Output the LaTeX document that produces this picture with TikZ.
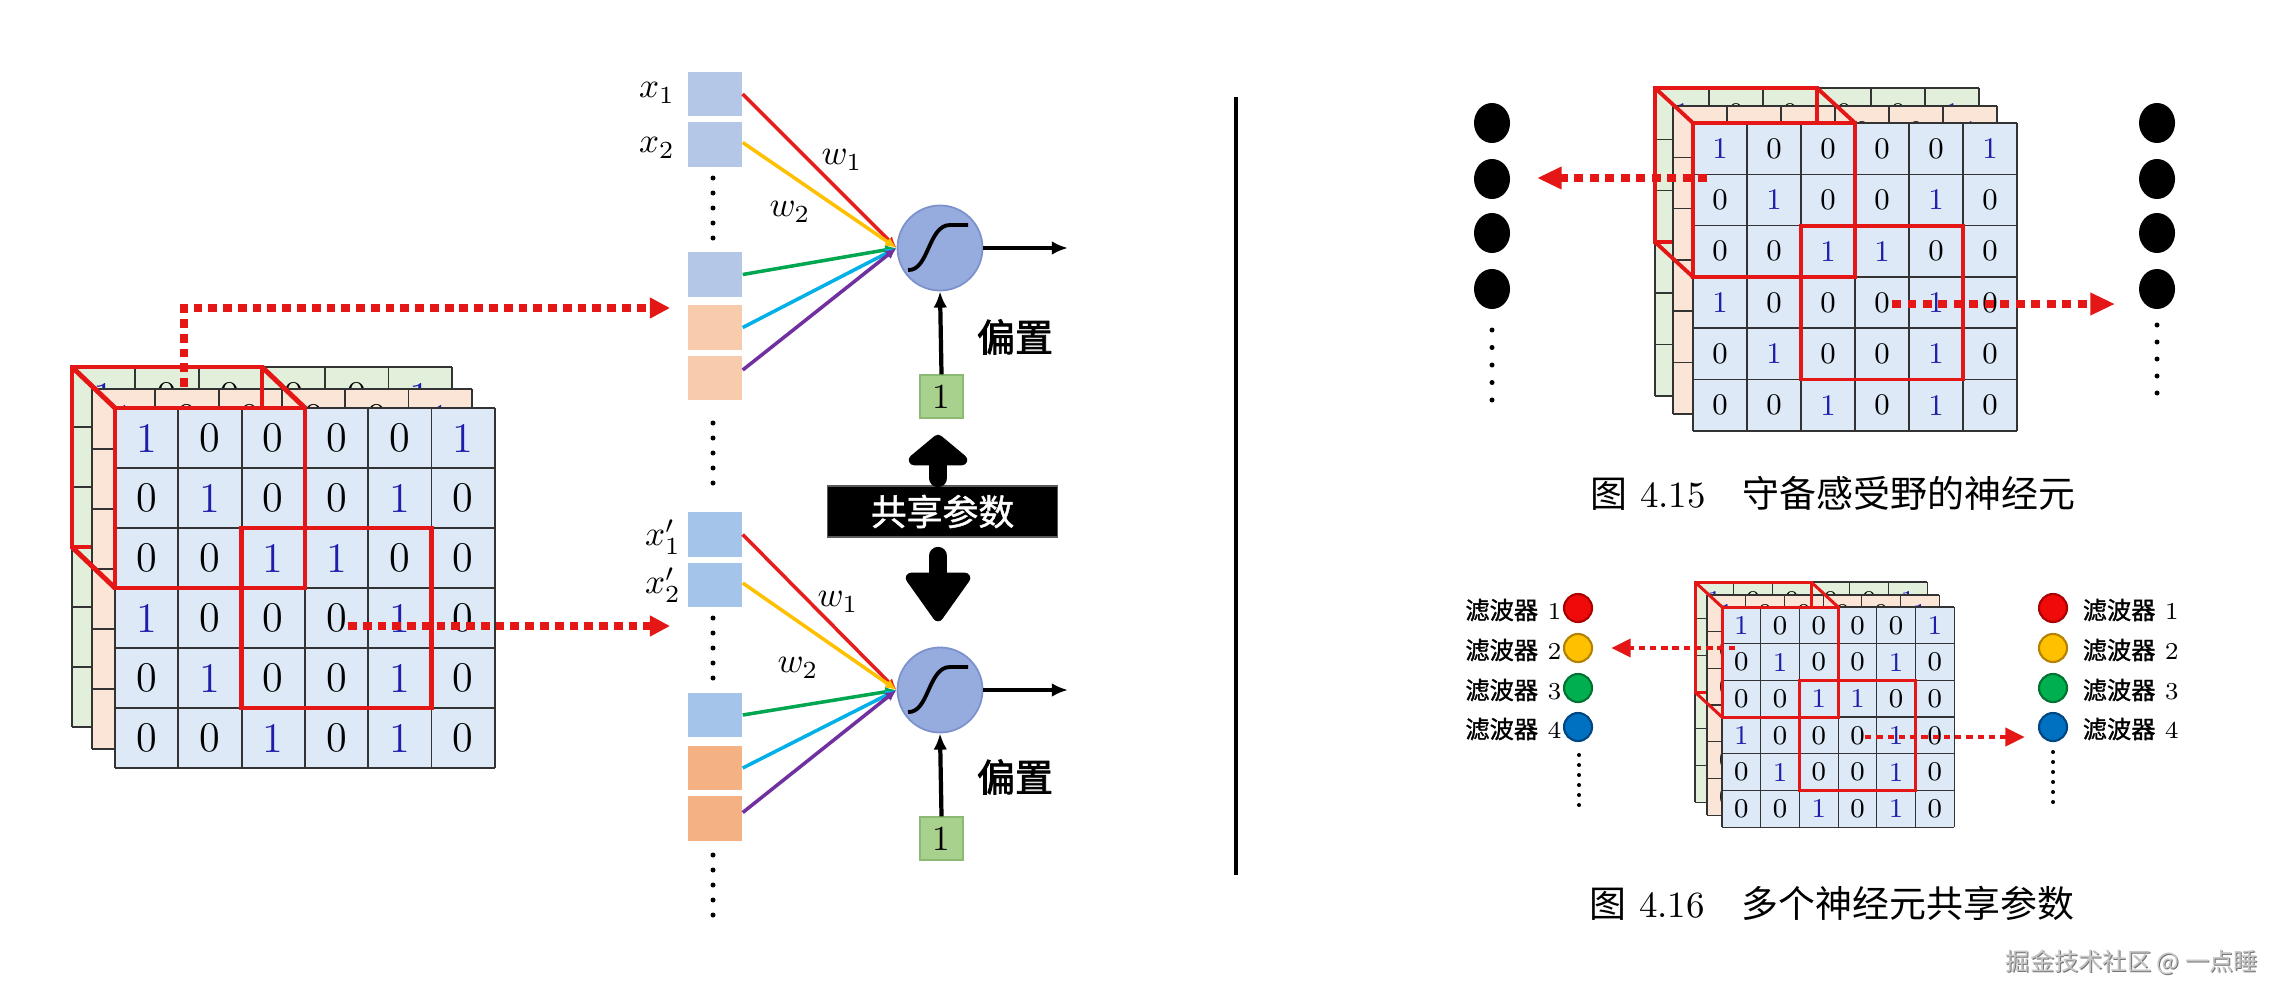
\documentclass[tikz,border=0pt]{standalone}
\usepackage{fontspec}
\newfontfamily\cjk{Noto Sans CJK SC}
\newfontfamily\cjkfb{Noto Sans CJK SC}[FakeBold=2.2]
\newfontfamily\cjkfs{Noto Sans CJK SC}[FakeBold=1.2]
\usetikzlibrary{arrows.meta,shapes.geometric}
\definecolor{lgreen}{RGB}{226,239,218}
\definecolor{lpeach}{RGB}{251,229,214}
\definecolor{lblue}{RGB}{221,233,247}
\definecolor{digblue}{RGB}{30,30,170}
\definecolor{rbox}{RGB}{228,22,22}
\definecolor{inblue}{RGB}{180,199,231}
\definecolor{inblueB}{RGB}{164,196,234}
\definecolor{inpeach}{RGB}{248,203,173}
\definecolor{inorange}{RGB}{244,177,131}
\definecolor{biasgreen}{RGB}{169,209,142}
\definecolor{biasedge}{RGB}{140,185,115}
\definecolor{neuron}{RGB}{150,171,222}
\definecolor{neuronedge}{RGB}{125,145,205}
\definecolor{wred}{RGB}{230,30,30}
\definecolor{wyellow}{RGB}{255,192,0}
\definecolor{wgreen}{RGB}{0,166,80}
\definecolor{wcyan}{RGB}{0,176,230}
\definecolor{wpurple}{RGB}{112,48,160}
\definecolor{fred}{RGB}{240,10,10}
\definecolor{fredD}{RGB}{170,0,0}
\definecolor{fyel}{RGB}{255,192,0}
\definecolor{fyelD}{RGB}{180,130,0}
\definecolor{fgrn}{RGB}{0,176,80}
\definecolor{fgrnD}{RGB}{0,115,50}
\definecolor{fblu}{RGB}{0,112,192}
\definecolor{fbluD}{RGB}{0,70,130}

% #1 name, #2 x0, #3 y0, #4 cell w, #5 cell h, #6 fill, #7 font, #8 line width
\newcommand\gridlayer[8]{%
  \fill[#6] (#2,#3) rectangle ({#2+6*#4},{#3+6*#5});
  \foreach \r/\rowvals in {0/{1,0,0,0,0,1},1/{0,1,0,0,1,0},2/{0,0,1,1,0,0},3/{1,0,0,0,1,0},4/{0,1,0,0,1,0},5/{0,0,1,0,1,0}}{%
    \foreach \v [count=\c from 0] in \rowvals {%
      \node[font=#7, inner sep=0pt] (#1-\r-\c) at ({#2+(\c+0.5)*#4},{#3+(\r+0.5)*#5}) {\ifnum\v=1 \color{digblue}\fi\v};
    }%
  }%
  \foreach \i in {0,...,6}{%
    \draw[gridline, line width=#8] ({#2+\i*#4},#3) -- ({#2+\i*#4},{#3+6*#5});
    \draw[gridline, line width=#8] (#2,{#3+\i*#5}) -- ({#2+6*#4},{#3+\i*#5});
  }%
}

\tikzset{
  gridline/.style={draw=black!80},
  redA/.style={draw=rbox, line width=1.4pt, line join=miter},
  redB/.style={draw=rbox, line width=1.1pt, line join=miter},
  redC/.style={draw=rbox, line width=0.85pt, line join=miter},
  dotA/.style={draw=rbox, line width=2pt, dash pattern=on 2.5pt off 1.7pt, -{Triangle[length=5.7pt,width=5.6pt]}},
  dotB/.style={draw=rbox, line width=2pt, dash pattern=on 2.5pt off 1.9pt, -{Triangle[length=7pt,width=6pt]}},
  dotC/.style={draw=rbox, line width=1.4pt, dash pattern=on 1.8pt off 1.4pt, -{Triangle[length=5.6pt,width=5pt]}},
  inbox/.style={rectangle, minimum width=0.54cm, minimum height=0.445cm, inner sep=0pt},
  wire/.style={line width=1pt, -{Latex[length=3.2pt,width=2.8pt]}},
  blackarrow/.style={line width=1.2pt, -{Latex[length=4.6pt,width=3.9pt]}},
  neuronc/.style={circle, minimum size=0.85cm, inner sep=0pt, fill=neuron, draw=neuronedge, line width=0.5pt},
  biasbox/.style={rectangle, minimum size=0.43cm, inner sep=0pt, fill=biasgreen, draw=biasedge, line width=0.4pt, font=\fontsize{10}{12}\selectfont},
  mathlab/.style={font=\fontsize{10}{12}\selectfont, inner sep=0pt},
  pianzhi/.style={font=\cjkfb\fontsize{10.8}{13}\selectfont, inner sep=0pt},
  vdot/.style={circle, fill=black, inner sep=0pt, minimum size=0.05cm},
  bigdot/.style={ellipse, fill=black, inner sep=0pt, minimum width=0.36cm, minimum height=0.40cm},
  fcirc/.style={circle, inner sep=0pt, minimum size=0.28cm, line width=0.6pt},
  flab/.style={font=\fontsize{6.9}{8}\selectfont, inner sep=0pt},
  caption/.style={font=\fontsize{10.5}{13}\selectfont, inner sep=0pt},
  sharebox/.style={rectangle, fill=black, draw=black!65, line width=0.3pt, minimum width=2.29cm, minimum height=0.51cm, inner sep=0pt, text=white, font=\cjkfs\fontsize{10.2}{12}\selectfont},
  bigshaft/.style={line width=5.2pt, line cap=round},
  bighead/.style={fill=black, draw=black, line width=3pt, line join=round}
}

\begin{document}
\begin{tikzpicture}[x=0.01cm, y=-0.01cm]
\useasboundingbox (0,0) rectangle (2289,1000);
\fill[white] (0,0) rectangle (2289,1000);

% ================= LEFT GRID =================
\gridlayer{LG}{72}{367}{63.3}{60}{lgreen}{\fontsize{12}{14}\selectfont}{0.55pt}
\draw[redA] (72,367) rectangle (262,547);
\gridlayer{LP}{92}{389}{63.3}{60}{lpeach}{\fontsize{12}{14}\selectfont}{0.55pt}
\draw[redA] (262,367) -- (262,408);
\draw[redA] (72,367) -- (115,408);
\draw[redA] (262,367) -- (305,408);
\draw[redA] (72,547) -- (115,588);
\draw[redA] (72,367) -- (262,367);
\gridlayer{LF}{115}{408}{63.3}{60}{lblue}{\fontsize{12}{14}\selectfont}{0.55pt}
\draw[redA] (115,408) rectangle (305,588);
\draw[redA] (241.6,528) rectangle (431.5,708);
\coordinate (ls1) at (184,387);
\coordinate (lc1) at (184,308);
\coordinate (lt1) at (670,308);
\coordinate (ls2) at (348,626);
\coordinate (lt2) at (670,626);
\draw[dotA] (ls1) -- (lc1) -- (lt1);
\draw[dotA] (ls2) -- (lt2);

% ================= TOP NEURON =================
\node[inbox, fill=inblue] (a1) at (715,94) {};
\node[inbox, fill=inblue] (a2) at (715,144.5) {};
\node[inbox, fill=inblue] (a3) at (715,274.5) {};
\node[inbox, fill=inpeach] (a4) at (715,327.5) {};
\node[inbox, fill=inpeach] (a5) at (715,378) {};
\node[mathlab] (x1l) at (657,93) {$x_1$};
\node[mathlab] (x2l) at (657,148) {$x_2$};
\foreach \yy [count=\k] in {178,193,208,223,238} \node[vdot] (da-\k) at (713,\yy) {};
\foreach \yy [count=\k] in {423,438,453,468,483} \node[vdot] (db-\k) at (713,\yy) {};
\node[neuronc] (n1) at (940,248) {};
\draw[line width=1.1pt] (908,270) .. controls (929,271) and (928,225) .. (950,225) -- (968,225);
\draw[wire, wred] (a1.east) -- (n1.west);
\draw[wire, wyellow] ([yshift=0.02cm]a2.east) -- (n1.west);
\draw[wire, wgreen] (a3.east) -- (n1.west);
\draw[wire, wcyan] (a4.east) -- (n1.west);
\draw[wire, wpurple] ([yshift=0.08cm]a5.east) -- (n1.west);
\node[mathlab] (w1a) at (842,160) {$w_1$};
\node[mathlab] (w2a) at (790,212) {$w_2$};
\coordinate (o1) at (1068,248);
\draw[blackarrow] (n1.east) -- (o1);
\node[biasbox] (b1) at (941.5,396.5) {1};
\draw[blackarrow] (b1.north) -- (n1.south);
\node[pianzhi] (pz1) at (1015,337) {偏置};

% ================= SHARED PARAMETERS =================
\node[sharebox] (sp) at (942.5,511.5) {共享参数};
\draw[bigshaft] (938,478) -- (938,456);
\filldraw[bighead] (938,440) -- (962,460) -- (914,460) -- cycle;
\draw[bigshaft] (938,556) -- (938,578);
\filldraw[bighead] (911,578) -- (965,578) -- (938,616) -- cycle;

% ================= BOTTOM NEURON =================
\node[inbox, fill=inblueB] (c1) at (715,534.5) {};
\node[inbox, fill=inblueB] (c2) at (715,585) {};
\node[inbox, fill=inblueB] (c3) at (715,715) {};
\node[inbox, fill=inorange] (c4) at (715,768) {};
\node[inbox, fill=inorange] (c5) at (715,818.5) {};
\node[mathlab] (x1p) at (663,537) {$x'_1$};
\node[mathlab] (x2p) at (663,585) {$x'_2$};
\foreach \yy [count=\k] in {618,633,648,663,678} \node[vdot] (dc-\k) at (713,\yy) {};
\foreach \yy [count=\k] in {855,870,885,900,915} \node[vdot] (dd-\k) at (713,\yy) {};
\node[neuronc] (n2) at (940,690) {};
\draw[line width=1.1pt] (908,712) .. controls (929,713) and (928,667) .. (950,667) -- (968,667);
\draw[wire, wred] (c1.east) -- (n2.west);
\draw[wire, wyellow] ([yshift=0.02cm]c2.east) -- (n2.west);
\draw[wire, wgreen] (c3.east) -- (n2.west);
\draw[wire, wcyan] (c4.east) -- (n2.west);
\draw[wire, wpurple] ([yshift=0.06cm]c5.east) -- (n2.west);
\node[mathlab] (w1b) at (838,602) {$w_1$};
\node[mathlab] (w2b) at (798,668) {$w_2$};
\coordinate (o2) at (1068,690);
\draw[blackarrow] (n2.east) -- (o2);
\node[biasbox] (b2) at (941.5,838.5) {1};
\draw[blackarrow] (b2.north) -- (n2.south);
\node[pianzhi] (pz2) at (1015,777) {偏置};

% ================= SEPARATOR =================
\coordinate (sepT) at (1236,97);
\coordinate (sepB) at (1236,875);
\draw[line width=1.1pt] (sepT) -- (sepB);

% ================= RIGHT TOP FIGURE =================
\gridlayer{RG}{1655}{88}{54}{51.3}{lgreen}{\fontsize{8.5}{10}\selectfont}{0.45pt}
\draw[redB] (1655,88) rectangle (1817,242);
\gridlayer{RP}{1673}{106}{54}{51.3}{lpeach}{\fontsize{8.5}{10}\selectfont}{0.45pt}
\draw[redB] (1817,88) -- (1817,123);
\draw[redB] (1655,88) -- (1693,123);
\draw[redB] (1817,88) -- (1855,123);
\draw[redB] (1655,242) -- (1693,277);
\draw[redB] (1655,88) -- (1817,88);
\gridlayer{RF}{1693}{123}{54}{51.3}{lblue}{\fontsize{8.5}{10}\selectfont}{0.45pt}
\draw[redB] (1693,123) rectangle (1855,277);
\draw[redB] (1801,225.6) rectangle (1963,379.5);
\foreach \yy [count=\k] in {123,179,233,289} {
  \node[bigdot] (ln-\k) at (1492,\yy) {};
  \node[bigdot] (rn-\k) at (2157,\yy) {};
}
\foreach \yy [count=\k] in {330,347.5,365,382.5,400} \node[vdot] (le-\k) at (1492,\yy) {};
\foreach \yy [count=\k] in {325,342,359,376,393} \node[vdot] (re-\k) at (2157,\yy) {};
\coordinate (rs1) at (1707,178);
\coordinate (rt1) at (1537,178);
\coordinate (rs2) at (1892,304);
\coordinate (rt2) at (2115,304);
\draw[dotB] (rs1) -- (rt1);
\draw[dotB] (rs2) -- (rt2);
\node[caption] (cap1) at (1833,493) {{\cjk 图} 4.15{\cjk 　守备感受野的神经元}};

% ================= RIGHT BOTTOM FIGURE =================
\gridlayer{SG}{1695}{582}{38.7}{36.7}{lgreen}{\fontsize{7.7}{9}\selectfont}{0.35pt}
\draw[redC] (1695,582) rectangle (1811.1,692.1);
\gridlayer{SP}{1707}{595}{38.7}{36.7}{lpeach}{\fontsize{7.7}{9}\selectfont}{0.35pt}
\draw[redC] (1811.1,582) -- (1811.1,607);
\draw[redC] (1695,582) -- (1722,607);
\draw[redC] (1811.1,582) -- (1838.1,607);
\draw[redC] (1695,692.1) -- (1722,717.1);
\draw[redC] (1695,582) -- (1811.1,582);
\gridlayer{SF}{1722}{607}{38.7}{36.7}{lblue}{\fontsize{7.7}{9}\selectfont}{0.35pt}
\draw[redC] (1722,607) rectangle (1838.1,717.1);
\draw[redC] (1799.4,680.4) rectangle (1915.5,790.5);
\coordinate (ss1) at (1735,648);
\coordinate (st1) at (1611,648);
\coordinate (ss2) at (1865,737);
\coordinate (st2) at (2025,737);
\draw[dotC] (ss1) -- (st1);
\draw[dotC] (ss2) -- (st2);

\foreach \yy/\fc/\dc [count=\k] in {608/fred/fredD,648/fyel/fyelD,688/fgrn/fgrnD,727/fblu/fbluD} {
  \node[fcirc, fill=\fc, draw=\dc] (lf-\k) at (1578,\yy) {};
  \node[fcirc, fill=\fc, draw=\dc] (rf-\k) at (2053,\yy) {};
  \node[flab, anchor=east] (lfl-\k) at (1562,\yy+2) {{\cjkfs 滤波器} \k};
  \node[flab, anchor=west] (rfl-\k) at (2082,\yy+2) {{\cjkfs 滤波器} \k};
}
\foreach \yy [count=\k] in {755,765,775,785,795,805} \node[vdot, minimum size=0.04cm] (lg-\k) at (1579,\yy) {};
\foreach \yy [count=\k] in {752,762,772,782,792,802} \node[vdot, minimum size=0.04cm] (rg-\k) at (2053,\yy) {};
\node[caption] (cap2) at (1832,903) {{\cjk 图} 4.16{\cjk 　多个神经元共享参数}};

% ================= WATERMARK =================
\node[font=\cjk\fontsize{6.9}{8}\selectfont, text=black!55, inner sep=0pt] (wmS) at (2133,963) {掘金技术社区 @ 一点睡};
\node[font=\cjk\fontsize{6.9}{8}\selectfont, text=black!22, inner sep=0pt] (wm) at (2132,962) {掘金技术社区 @ 一点睡};
\end{tikzpicture}
\end{document}
